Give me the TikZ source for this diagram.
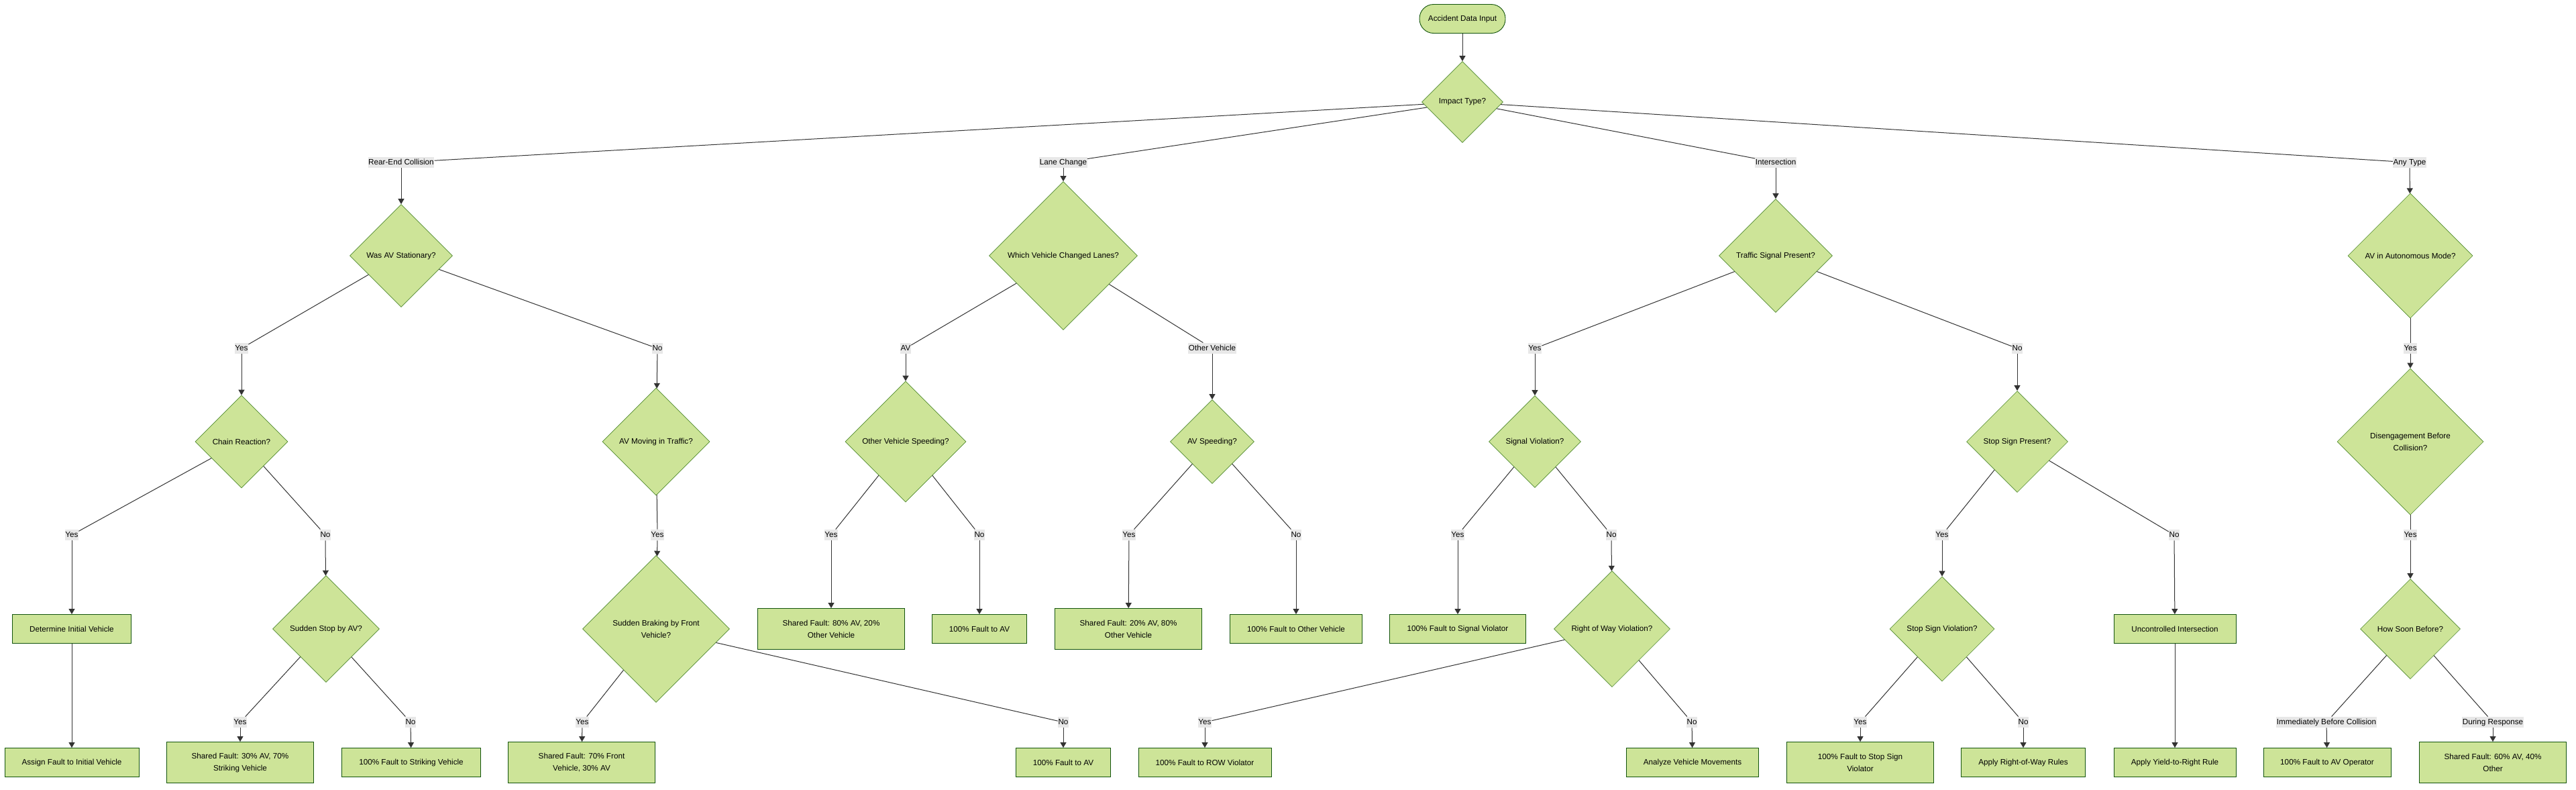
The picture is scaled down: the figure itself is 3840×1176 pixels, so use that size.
\documentclass[tikz,border=0pt]{standalone}
\usepackage{fontspec}
\setmainfont{Liberation Sans}
\usetikzlibrary{shapes.geometric,arrows.meta}
\definecolor{nodefill}{HTML}{CDE498}
\definecolor{nodestroke}{HTML}{13540C}
\definecolor{diastroke}{HTML}{4F8A2E}
\definecolor{labfill}{HTML}{E8E8E8}
\definecolor{edgecol}{HTML}{333333}
\tikzset{
  txt/.style={font=\fontsize{11.7}{18}\selectfont, align=center},
  base/.style={txt, fill=nodefill, inner sep=0pt},
  rbox/.style={base, rectangle, draw=nodestroke, line width=0.9pt, minimum width=#1pt, minimum height=43pt},
  rboxtwo/.style={base, rectangle, draw=nodestroke, line width=0.9pt, minimum width=#1pt, minimum height=61pt},
  dia/.style={base, diamond, draw=diastroke, line width=0.6pt, aspect=1, minimum width=#1pt, minimum height=#1pt},
  term/.style={base, rectangle, rounded corners=21pt, draw=nodestroke, line width=0.9pt, minimum width=128pt, minimum height=43pt},
  lab/.style={txt, fill=labfill, inner xsep=0.6pt, inner ysep=2pt, text height=9.5pt, text depth=3pt},
  ln/.style={draw=edgecol, line width=1pt},
  ar/.style={ln, -{Triangle[length=8pt,width=9pt]}}
}
\begin{document}
\begin{tikzpicture}[x=1pt,y=-1pt]
\useasboundingbox (0,0) rectangle (3840,1176);
\fill[white] (0,0) rectangle (3840,1176);

% level 0
\node[term] (start) at (2180,28) {Accident Data Input};
\node[dia=121] (impact) at (2180,152) {Impact Type?};

% level 1 labels
\node[lab] (lRE) at (598,242) {Rear-End Collision};
\node[lab] (lLC) at (1585,242) {Lane Change};
\node[lab] (lIN) at (2647,242) {Intersection};
\node[lab] (lAT) at (3592,242) {Any Type};

% level 1 diamonds
\node[dia=153] (stat) at (598,381) {Was AV Stationary?};
\node[dia=221] (which) at (1585,381) {Which Vehicle Changed Lanes?};
\node[dia=169] (traffic) at (2647,381) {Traffic Signal Present?};
\node[dia=186] (auto) at (3593,381) {AV in Autonomous Mode?};

% level 2 labels
\node[lab] (statyes) at (360,519) {Yes};
\node[lab] (statno) at (980,519) {No};
\node[lab] (wlav) at (1350,519) {AV};
\node[lab] (wlov) at (1807,519) {Other Vehicle};
\node[lab] (tryes) at (2288,519) {Yes};
\node[lab] (trno) at (3007,519) {No};
\node[lab] (auyes) at (3593,519) {Yes};

% level 2 diamonds
\node[dia=138] (chain) at (360,658) {Chain Reaction?};
\node[dia=160] (moving) at (978,658) {AV Moving in Traffic?};
\node[dia=180] (ovspeed) at (1350,658) {Other Vehicle Speeding?};
\node[dia=125] (avspeed) at (1807,658) {AV Speeding?};
\node[dia=137] (sigviol) at (2288,658) {Signal Violation?};
\node[dia=151] (stoppres) at (3007,658) {Stop Sign Present?};
\node[dia=218] (diseng) at (3593,658) {Disengagement Before\\Collision?};

% level 3 labels
\node[lab] (chyes) at (107,797) {Yes};
\node[lab] (chno) at (485,797) {No};
\node[lab] (mvyes) at (980,797) {Yes};
\node[lab] (ovsyes) at (1239,797) {Yes};
\node[lab] (ovsno) at (1460,797) {No};
\node[lab] (avsyes) at (1683,797) {Yes};
\node[lab] (avsno) at (1932,797) {No};
\node[lab] (svyes) at (2173,797) {Yes};
\node[lab] (svno) at (2402,797) {No};
\node[lab] (spyes) at (2895,797) {Yes};
\node[lab] (spno) at (3241,797) {No};
\node[lab] (dgyes) at (3593,797) {Yes};

% level 3 nodes
\node[rbox=177] (determine) at (107,937) {Determine Initial Vehicle};
\node[dia=159] (sudden) at (486,937) {Sudden Stop by AV?};
\node[dia=219] (braking) at (978,937) {Sudden Braking by Front\\Vehicle?};
\node[rboxtwo=219] (sh80) at (1239,937) {Shared Fault: 80\% AV, 20\%\\Other Vehicle};
\node[rbox=141] (fav1) at (1460,937) {100\% Fault to AV};
\node[rboxtwo=219] (sh20) at (1682,937) {Shared Fault: 20\% AV, 80\%\\Other Vehicle};
\node[rbox=197] (fov) at (1932,937) {100\% Fault to Other Vehicle};
\node[rbox=203] (fsig) at (2173,937) {100\% Fault to Signal Violator};
\node[dia=173] (row) at (2403,937) {Right of Way Violation?};
\node[dia=156] (stopviol) at (2895,937) {Stop Sign Violation?};
\node[rbox=182] (uncon) at (3242,937) {Uncontrolled Intersection};
\node[dia=149] (howsoon) at (3593,937) {How Soon Before?};

% level 4 labels
\node[lab] (ssyes) at (358,1076) {Yes};
\node[lab] (ssno) at (612,1076) {No};
\node[lab] (bryes) at (868,1076) {Yes};
\node[lab] (brno) at (1585,1076) {No};
\node[lab] (rwyes) at (1796,1076) {Yes};
\node[lab] (rwno) at (2522,1076) {No};
\node[lab] (stvyes) at (2773,1076) {Yes};
\node[lab] (stvno) at (3016,1076) {No};
\node[lab] (hsimm) at (3468,1076) {Immediately Before Collision};
\node[lab] (hsdur) at (3716,1076) {During Response};

% level 4 nodes
\node[rbox=200] (assign) at (107,1136) {Assign Fault to Initial Vehicle};
\node[rboxtwo=219] (sh30) at (358,1136) {Shared Fault: 30\% AV, 70\%\\Striking Vehicle};
\node[rbox=207] (fstrike) at (613,1136) {100\% Fault to Striking Vehicle};
\node[rboxtwo=219] (sh70) at (867,1136) {Shared Fault: 70\% Front\\Vehicle, 30\% AV};
\node[rbox=141] (fav2) at (1585,1136) {100\% Fault to AV};
\node[rbox=198] (frow) at (1796,1136) {100\% Fault to ROW Violator};
\node[rbox=197] (analyze) at (2523,1136) {Analyze Vehicle Movements};
\node[rboxtwo=219] (fstop) at (2773,1136) {100\% Fault to Stop Sign\\Violator};
\node[rbox=185] (applyrow) at (3016,1136) {Apply Right-of-Way Rules};
\node[rbox=182] (yield) at (3242,1136) {Apply Yield-to-Right Rule};
\node[rbox=190] (fop) at (3469,1136) {100\% Fault to AV Operator};
\node[rboxtwo=219] (sh60) at (3716,1136) {Shared Fault: 60\% AV, 40\%\\Other};

% edges
\draw[ar] (start) -- (impact);
\draw[ln] (impact) -- (lRE); \draw[ar] (lRE) -- (stat);
\draw[ln] (impact) -- (lLC); \draw[ar] (lLC) -- (which);
\draw[ln] (impact) -- (lIN); \draw[ar] (lIN) -- (traffic);
\draw[ln] (impact) -- (lAT); \draw[ar] (lAT) -- (auto);

\draw[ln] (stat) -- (statyes); \draw[ar] (statyes) -- (chain);
\draw[ln] (stat) -- (statno); \draw[ar] (statno) -- (moving);
\draw[ln] (which) -- (wlav); \draw[ar] (wlav) -- (ovspeed);
\draw[ln] (which) -- (wlov); \draw[ar] (wlov) -- (avspeed);
\draw[ln] (traffic) -- (tryes); \draw[ar] (tryes) -- (sigviol);
\draw[ln] (traffic) -- (trno); \draw[ar] (trno) -- (stoppres);
\draw[ln] (auto) -- (auyes); \draw[ar] (auyes) -- (diseng);

\draw[ln] (chain) -- (chyes); \draw[ar] (chyes) -- (determine);
\draw[ln] (chain) -- (chno); \draw[ar] (chno) -- (sudden);
\draw[ln] (moving) -- (mvyes); \draw[ar] (mvyes) -- (braking);
\draw[ln] (ovspeed) -- (ovsyes); \draw[ar] (ovsyes) -- (sh80);
\draw[ln] (ovspeed) -- (ovsno); \draw[ar] (ovsno) -- (fav1);
\draw[ln] (avspeed) -- (avsyes); \draw[ar] (avsyes) -- (sh20);
\draw[ln] (avspeed) -- (avsno); \draw[ar] (avsno) -- (fov);
\draw[ln] (sigviol) -- (svyes); \draw[ar] (svyes) -- (fsig);
\draw[ln] (sigviol) -- (svno); \draw[ar] (svno) -- (row);
\draw[ln] (stoppres) -- (spyes); \draw[ar] (spyes) -- (stopviol);
\draw[ln] (stoppres) -- (spno); \draw[ar] (spno) -- (uncon);
\draw[ln] (diseng) -- (dgyes); \draw[ar] (dgyes) -- (howsoon);

\draw[ar] (determine) -- (assign);
\draw[ln] (sudden) -- (ssyes); \draw[ar] (ssyes) -- (sh30);
\draw[ln] (sudden) -- (ssno); \draw[ar] (ssno) -- (fstrike);
\draw[ln] (braking) -- (bryes); \draw[ar] (bryes) -- (sh70);
\draw[ln] (braking) -- (brno); \draw[ar] (brno) -- (fav2);
\draw[ln] (row) -- (rwyes); \draw[ar] (rwyes) -- (frow);
\draw[ln] (row) -- (rwno); \draw[ar] (rwno) -- (analyze);
\draw[ln] (stopviol) -- (stvyes); \draw[ar] (stvyes) -- (fstop);
\draw[ln] (stopviol) -- (stvno); \draw[ar] (stvno) -- (applyrow);
\draw[ar] (uncon) -- (yield);
\draw[ln] (howsoon) -- (hsimm); \draw[ar] (hsimm) -- (fop);
\draw[ln] (howsoon) -- (hsdur); \draw[ar] (hsdur) -- (sh60);
\end{tikzpicture}
\end{document}
